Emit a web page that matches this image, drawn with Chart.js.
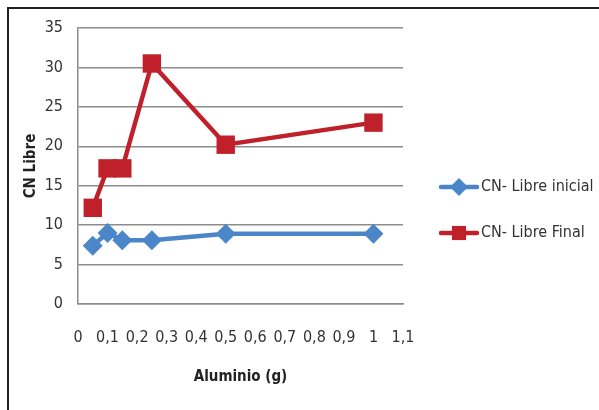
<!DOCTYPE html>
<html>
<head>
<meta charset="utf-8">
<script src="https://cdn.jsdelivr.net/npm/chart.js@4/dist/chart.umd.min.js"></script>
<style>
  body { margin: 0; background: #fff; }
  #wrap { position: relative; width: 599px; height: 410px; }
  #frame { position: absolute; left: 7px; top: 7px; right: 0; bottom: 0;
           border-top: 2px solid #222; border-left: 2px solid #222; pointer-events: none; }
</style>
</head>
<body>
<div id="wrap">
  <canvas id="Graph" width="599" height="410"></canvas>
  <div id="frame"></div>
</div>
<script>
// data
const aluminio = [0.05, 0.1, 0.15, 0.25, 0.5, 1.0];
const libreInicial = [7.4, 9.0, 8.1, 8.1, 8.9, 8.9];
const libreFinal = [12.2, 17.2, 17.2, 30.5, 20.2, 23.0];
const seriesNames = ['CN- Libre inicial', 'CN- Libre Final'];
const xTitle = 'Aluminio (g)';
const yTitle = 'CN Libre';

const FONT = '"Liberation Sans Narrow", "DejaVu Sans Condensed", sans-serif';
const BLUE = '#4a86c8';
const RED = '#c0202a';

const toPoints = (ys) => aluminio.map((x, i) => ({ x: x, y: ys[i] }));

// legend drawn by hand: line + marker + label, like the spreadsheet one
const sideLegend = {
  id: 'sideLegend',
  afterDraw(chart) {
    const c = chart.ctx;
    const rows = [
      { y: 187, color: BLUE, style: 'rectRot', r: 9 },
      { y: 233, color: RED, style: 'rect', r: 10 }
    ];
    rows.forEach((row, i) => {
      c.save();
      c.strokeStyle = row.color;
      c.lineWidth = 4.5;
      c.lineCap = 'round';
      c.beginPath();
      c.moveTo(441, row.y);
      c.lineTo(477, row.y);
      c.stroke();
      c.fillStyle = row.color;
      Chart.helpers.drawPoint(c, { pointStyle: row.style, radius: row.r, borderWidth: 0 }, 459, row.y);
      c.fillStyle = '#333';
      c.font = '16px ' + FONT;
      c.textBaseline = 'middle';
      c.fillText(seriesNames[i], 481, row.y);
      c.restore();
    });
  }
};

const ctx = document.getElementById('Graph').getContext('2d');
new Chart(ctx, {
  type: 'line',
  data: {
    datasets: [
      {
        label: seriesNames[0],
        data: toPoints(libreInicial),
        borderColor: BLUE,
        backgroundColor: BLUE,
        borderWidth: 4.5,
        pointStyle: 'rectRot',
        pointRadius: 10,
        pointBorderWidth: 0,
        tension: 0
      },
      {
        label: seriesNames[1],
        data: toPoints(libreFinal),
        borderColor: RED,
        backgroundColor: RED,
        borderWidth: 4.5,
        pointStyle: 'rect',
        pointRadius: 13,
        pointBorderWidth: 0,
        tension: 0
      }
    ]
  },
  options: {
    responsive: false,
    animation: false,
    layout: { padding: { left: 0, top: 28, right: 196, bottom: 24 } },
    plugins: { legend: { display: false }, tooltip: { enabled: false } },
    scales: {
      x: {
        type: 'linear',
        min: 0,
        max: 1.1,
        afterFit: (s) => { s.height = 82; },
        grid: { display: false, drawTicks: false },
        border: { display: true, color: '#8c8c8c', width: 1.5 },
        ticks: {
          stepSize: 0.1,
          padding: 24,
          color: '#333',
          font: { family: FONT, size: 16 },
          callback: (v) => String(Math.round(v * 10) / 10).replace('.', ',')
        },
        title: {
          display: true,
          text: xTitle,
          color: '#222',
          padding: { top: 0, bottom: 0 },
          font: { family: FONT, size: 15, weight: 'bold' }
        }
      },
      y: {
        min: 0,
        max: 35,
        afterFit: (s) => { s.width = 78; },
        grid: { color: '#8c8c8c', lineWidth: 1.5, drawTicks: false },
        border: { display: true, color: '#8c8c8c', width: 1.5 },
        ticks: {
          stepSize: 5,
          padding: 15,
          color: '#333',
          font: { family: FONT, size: 16 }
        },
        title: {
          display: true,
          text: yTitle,
          color: '#222',
          padding: { top: 22, bottom: 0 },
          font: { family: FONT, size: 15, weight: 'bold' }
        }
      }
    }
  },
  plugins: [sideLegend]
});
</script>
</body>
</html>
